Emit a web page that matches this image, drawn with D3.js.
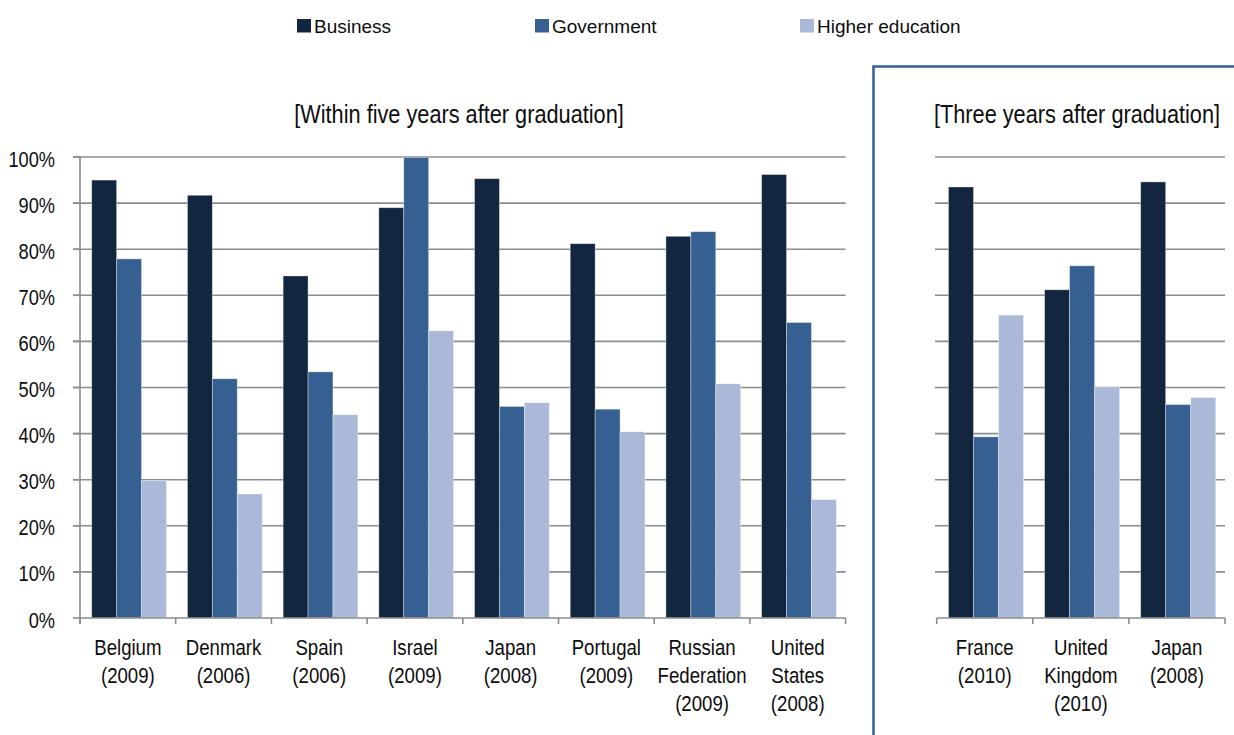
<!DOCTYPE html>
<html>
<head>
<meta charset="utf-8">
<script src="https://cdn.jsdelivr.net/npm/d3@7/dist/d3.min.js"></script>
<style>
  body { margin: 0; background: #fff; }
  text { font-family: "Liberation Sans", Arial, sans-serif; fill: #0d0d0d; }
</style>
</head>
<body>
<div id="chart"></div>
<script>
//////////DATA//////////
const seriesNames = ["Business", "Government", "Higher education"];
const seriesColors = ["#13263f", "#376092", "#aab9d7"];

const countries5 = [
  "Belgium\n(2009)", "Denmark\n(2006)", "Spain\n(2006)", "Israel\n(2009)",
  "Japan\n(2008)", "Portugal\n(2009)", "Russian\nFederation\n(2009)", "United\nStates\n(2008)"
];
const business5 = [95.0, 91.7, 74.2, 89.0, 95.3, 81.2, 82.8, 96.2];
const government5 = [77.9, 51.9, 53.4, 99.9, 45.9, 45.3, 83.8, 64.1];
const higherEd5 = [29.8, 26.9, 44.1, 62.3, 46.7, 40.4, 50.8, 25.7];

const countries3 = ["France\n(2010)", "United\nKingdom\n(2010)", "Japan\n(2008)"];
const business3 = [93.5, 71.2, 94.6];
const government3 = [39.3, 76.4, 46.3];
const higherEd3 = [65.7, 50.1, 47.8];

const yTicks = [0, 10, 20, 30, 40, 50, 60, 70, 80, 90, 100];

const titleLeft = "[Within five years after graduation]";
const titleRight = "[Three years after graduation]";

//////////CODE//////////
const svgObj = { width: 1234, height: 735 };
const gridColor = "#8c8c8c";
const narrow = 0.81; // condensed look of the original labels

const svg = d3
  .select("#chart")
  .append("svg")
  .attr("width", svgObj.width)
  .attr("height", svgObj.height);

const y = d3.scaleLinear().domain([0, 100]).range([618, 157]);

// text squeezed horizontally, anchored at (x, y)
const narrowText = (parent, x, yPos, str, size, anchor, factor) => {
  return parent
    .append("g")
    .attr("transform", `translate(${x}, ${yPos}) scale(${factor || narrow}, 1)`)
    .append("text")
    .attr("text-anchor", anchor)
    .style("font-size", size + "px")
    .text(str);
};

const drawPanel = (cfg) => {
  const x0 = d3.scaleBand().domain(cfg.cats).range(cfg.xRange).padding(0);
  const x1 = d3
    .scaleBand()
    .domain(seriesNames)
    .range([0, x0.bandwidth()])
    .paddingInner(0)
    .paddingOuter(0.42)
    .align(0.56);
  const g = svg.append("g");
  const gridStart = cfg.gridStart;
  const xEnd = cfg.xRange[1];

  // gridlines
  g.selectAll(".grid")
    .data(yTicks.filter((t) => t > 0))
    .join("line")
    .attr("x1", gridStart)
    .attr("x2", xEnd)
    .attr("y1", (d) => y(d))
    .attr("y2", (d) => y(d))
    .attr("stroke", gridColor)
    .attr("stroke-width", 1.6);

  // bars
  const values = [cfg.b, cfg.g, cfg.h];
  seriesNames.forEach((s, si) => {
    g.selectAll(".bar" + si)
      .data(cfg.cats)
      .join("rect")
      .attr("x", (d) => x0(d) + x1(s))
      .attr("width", x1.bandwidth())
      .attr("y", (d, i) => y(values[si][i]))
      .attr("height", (d, i) => y(0) - y(values[si][i]))
      .attr("fill", seriesColors[si])
      .attr("stroke", "rgba(255,255,255,0.45)")
      .attr("stroke-width", 0.8);
  });

  // bottom axis line and ticks at band edges
  g.append("line")
    .attr("x1", cfg.xRange[0])
    .attr("x2", xEnd)
    .attr("y1", y(0))
    .attr("y2", y(0))
    .attr("stroke", gridColor)
    .attr("stroke-width", 1.6);
  const edges = cfg.cats.map((d) => x0(d)).concat([xEnd]);
  g.selectAll(".xtick")
    .data(edges)
    .join("line")
    .attr("x1", (d) => d)
    .attr("x2", (d) => d)
    .attr("y1", y(0))
    .attr("y2", y(0) + 6)
    .attr("stroke", gridColor)
    .attr("stroke-width", 1.6);

  // category labels
  cfg.cats.forEach((c) => {
    const cx = x0(c) + x0.bandwidth() / 2;
    c.split("\n").forEach((line, li) => {
      narrowText(g, cx, 655 + li * 28, line, 23, "middle");
    });
  });

  // title
  narrowText(g, cfg.titleX, 123, cfg.title, 26.5, "middle", 0.82);

  if (cfg.yAxis) {
    g.append("line")
      .attr("x1", cfg.xRange[0])
      .attr("x2", cfg.xRange[0])
      .attr("y1", y(100))
      .attr("y2", y(0) + 6)
      .attr("stroke", gridColor)
      .attr("stroke-width", 1.6);
    yTicks.forEach((t) => {
      g.append("line")
        .attr("x1", cfg.xRange[0] - 7)
        .attr("x2", cfg.xRange[0])
        .attr("y1", y(t))
        .attr("y2", y(t))
        .attr("stroke", gridColor)
        .attr("stroke-width", 1.6);
      narrowText(g, 55, y(t) + 9.5, t + "%", 22.5, "end");
    });
  }
};

drawPanel({
  cats: countries5,
  b: business5,
  g: government5,
  h: higherEd5,
  xRange: [80, 845.6],
  gridStart: 73,
  yAxis: true,
  title: titleLeft,
  titleX: 459,
});

drawPanel({
  cats: countries3,
  b: business3,
  g: government3,
  h: higherEd3,
  xRange: [936.7, 1225],
  gridStart: 935,
  yAxis: false,
  title: titleRight,
  titleX: 1077,
});

// frame round the right panel (runs off the page)
svg
  .append("rect")
  .attr("x", 873.5)
  .attr("y", 66.5)
  .attr("width", 400)
  .attr("height", 700)
  .attr("fill", "none")
  .attr("stroke", "#3d6496")
  .attr("stroke-width", 2.6);

// legend
const legendX = [297, 535, 800];
const legend = svg.append("g");
seriesNames.forEach((s, i) => {
  legend
    .append("rect")
    .attr("x", legendX[i])
    .attr("y", 19)
    .attr("width", 14)
    .attr("height", 13.5)
    .attr("fill", seriesColors[i]);
  legend
    .append("text")
    .attr("x", legendX[i] + 17)
    .attr("y", 32.5)
    .style("font-size", "19px")
    .text(s);
});
</script>
</body>
</html>
